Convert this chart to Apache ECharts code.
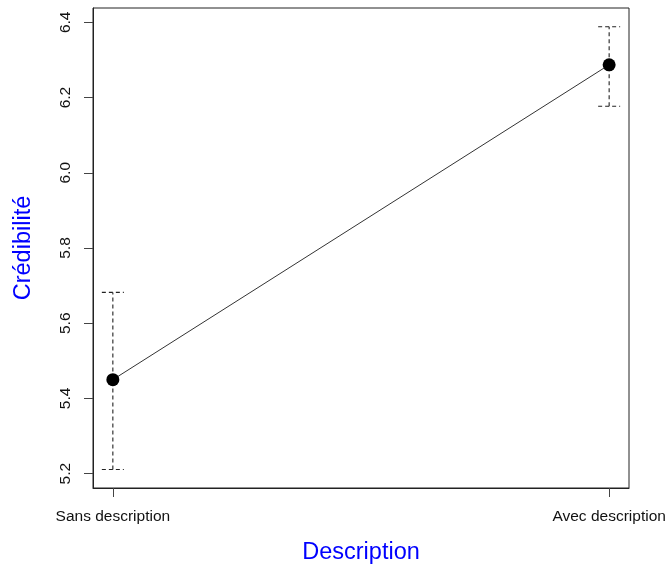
<!DOCTYPE html>
<html>
<head>
<meta charset="utf-8">
<script src="https://cdn.jsdelivr.net/npm/echarts@6/dist/echarts.min.js"></script>
<style>
  html, body { margin: 0; padding: 0; background: #fff; }
  #chart { width: 668px; height: 567px; }
</style>
</head>
<body>
<div id="chart"></div>
<script>
// Conditions on the horizontal axis (positions 1 and 2)
const categories = ['Sans description', 'Avec description'];
// Mean credibility per condition
const means = [5.450, 6.287];
// Lower and upper ends of the error bars
const lower = [5.211, 6.177];
const upper = [5.682, 6.388];
// Y tick values
const yTicks = [5.2, 5.4, 5.6, 5.8, 6.0, 6.2, 6.4];

const xPos = categories.map((_, i) => i + 1);
const pointData = xPos.map((x, i) => [x, means[i]]);
const barData = xPos.map((x, i) => [x, lower[i], upper[i]]);

const font = "'Liberation Sans', Arial, sans-serif";
const chart = echarts.init(document.getElementById('chart'));

chart.setOption({
  animation: false,
  grid: {
    left: 93, right: 39, top: 8, bottom: 79,
    outerBoundsMode: 'none',
    show: true, borderColor: '#222', borderWidth: 1
  },
  xAxis: {
    type: 'value',
    min: 0.96, max: 2.04,
    name: 'Description',
    nameLocation: 'middle',
    nameGap: 53,
    nameTextStyle: { color: '#0000ff', fontSize: 23.5, fontFamily: font },
    axisLine: { show: true, lineStyle: { color: '#222', width: 1 } },
    axisTick: { show: true, length: 9, customValues: xPos, lineStyle: { color: '#444' } },
    axisLabel: {
      customValues: xPos, margin: 21,
      color: '#111', fontSize: 15.5, fontFamily: font,
      formatter: v => categories[Math.round(v) - 1] || ''
    },
    splitLine: { show: false }
  },
  yAxis: {
    type: 'value',
    min: 5.162, max: 6.438,
    name: 'Crédibilité',
    nameLocation: 'middle',
    nameGap: 57,
    nameRotate: 90,
    nameTextStyle: { color: '#0000ff', fontSize: 23.5, fontFamily: font },
    axisLine: { show: true, lineStyle: { color: '#222', width: 1 } },
    axisTick: { show: true, length: 9, customValues: yTicks, lineStyle: { color: '#444' } },
    axisLabel: {
      customValues: yTicks, rotate: 90, margin: 19,
      color: '#111', fontSize: 15.5, fontFamily: font,
      formatter: v => v.toFixed(1)
    },
    splitLine: { show: false }
  },
  series: [
    {
      type: 'custom',
      data: barData,
      z: 2,
      renderItem: function (params, api) {
        const x = api.value(0);
        const lo = api.coord([x, api.value(1)]);
        const hi = api.coord([x, api.value(2)]);
        const w = 11;
        const style = { stroke: '#222', lineWidth: 1.1, lineDash: [4, 3] };
        return {
          type: 'group',
          children: [
            { type: 'line', shape: { x1: lo[0], y1: lo[1], x2: hi[0], y2: hi[1] }, style },
            { type: 'line', shape: { x1: hi[0] - w, y1: hi[1], x2: hi[0] + w, y2: hi[1] }, style },
            { type: 'line', shape: { x1: lo[0] - w, y1: lo[1], x2: lo[0] + w, y2: lo[1] }, style }
          ]
        };
      }
    },
    {
      type: 'line',
      data: pointData,
      z: 3,
      symbol: 'circle',
      symbolSize: 13,
      lineStyle: { color: '#333', width: 1 },
      itemStyle: { color: '#000', borderColor: '#000', borderWidth: 0 }
    }
  ]
});
</script>
</body>
</html>
